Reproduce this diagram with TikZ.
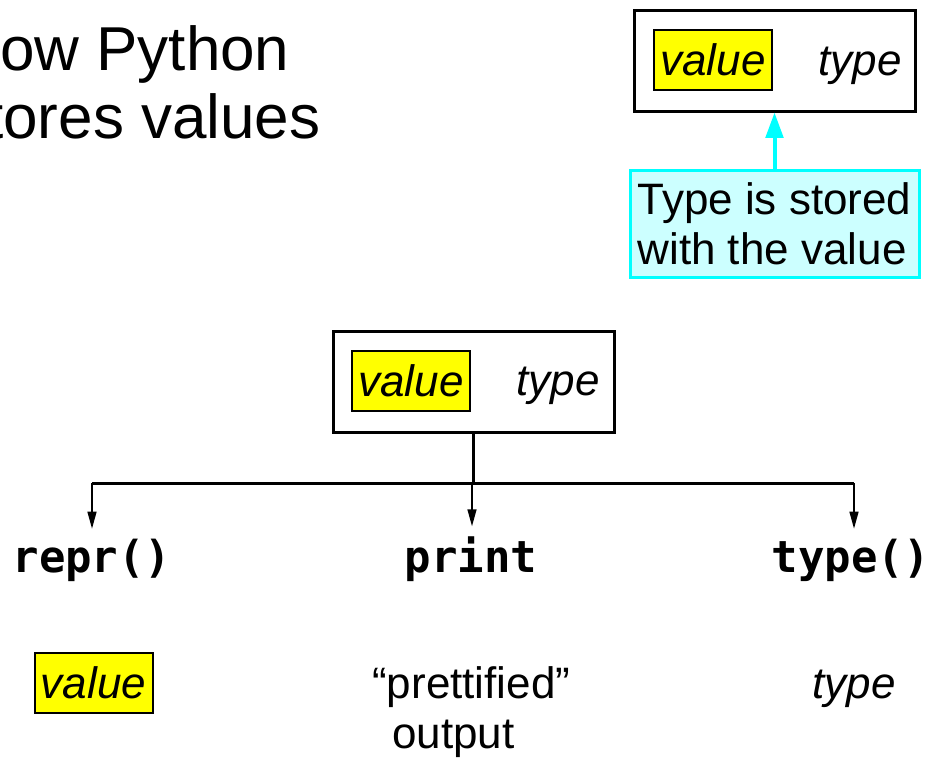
\documentclass[tikz,border=0pt]{standalone}
\usepackage{fontspec}
\setmainfont{Liberation Sans}
\newfontfamily\codefont{DejaVu Sans Mono}
\usetikzlibrary{arrows.meta}
\definecolor{hlyellow}{HTML}{FFFF00}
\definecolor{cyanline}{HTML}{00FFFF}
\definecolor{cyanfill}{HTML}{CCFFFF}
\begin{document}
\begin{tikzpicture}[x=0.75pt,y=-0.75pt,
  outerbox/.style={draw=black, line width=2.25pt, minimum width=210.75pt, minimum height=75.75pt, inner sep=0pt, fill=white},
  valbox/.style={draw=black, line width=1.5pt, fill=hlyellow, minimum width=88.5pt, minimum height=45pt, inner sep=0pt, font=\fontsize{33}{38}\selectfont\itshape},
  typetext/.style={anchor=base, inner sep=0pt, font=\fontsize{33}{38}\selectfont\itshape},
  codelabel/.style={anchor=base, inner sep=0pt, font=\fontsize{33}{36}\selectfont\codefont\bfseries},
  note/.style={draw=cyanline, line width=2.25pt, fill=cyanfill, align=left, minimum width=216.75pt, minimum height=80.25pt, inner sep=0pt, font=\fontsize{33}{37.5}\selectfont},
  plain/.style={inner sep=0pt, font=\fontsize{33}{37.5}\selectfont},
  feed/.style={line width=2.25pt},
  branch/.style={line width=1.8pt, -{Triangle[width=6.5pt,length=13pt]}, shorten >=7pt},
]
\useasboundingbox (0,0) rectangle (931,758);
\clip (0,0) rectangle (931,758);

% title (cut off at the left edge)
\node[anchor=base west, inner sep=0pt, align=left, font=\fontsize{46.5}{51}\selectfont] (title) at (-45,138) {How Python\\stores values};

% top: stored object with note
\node[outerbox] (mem) at (774.5,60.5) {};
\node[valbox] (memval) at (713,60) {value};
\node[typetext] (memtype) at (860,75) {type};
\node[note] (note) at (774.5,223.5) {Type is stored\\with the value};
\draw[cyanline, line width=3pt, -{Triangle[width=13pt,length=19pt]}] (note.north) -- (mem.south);

% middle object
\node[outerbox] (obj) at (473.5,381.5) {};
\node[valbox] (objval) at (411,380.5) {value};
\node[typetext] (objtype) at (558,395) {type};

% tree
\coordinate (split) at (473.5,483);
\coordinate (leftend) at (92,483);
\coordinate (midend) at (472,483);
\coordinate (rightend) at (854,483);
\node[codelabel] (repr) at (92,572) {repr()};
\node[codelabel] (print) at (471,572) {print};
\node[codelabel] (typef) at (851,572) {type()};
\draw[feed] (obj.south) -- (split);
\draw[feed] (leftend) -- (rightend);
\draw[branch] (leftend) -- (leftend |- repr.north);
\draw[branch] (midend) -- (midend |- print.north);
\draw[branch] (rightend) -- (rightend |- typef.north);

% results
\node[valbox] (outval) at (93.5,683) {value};
\node[plain, anchor=base west, align=left] (pretty) at (372,748) {“prettified”\\\hspace{15pt}output};
\node[typetext] (outtype) at (854,698) {type};
\end{tikzpicture}
\end{document}
